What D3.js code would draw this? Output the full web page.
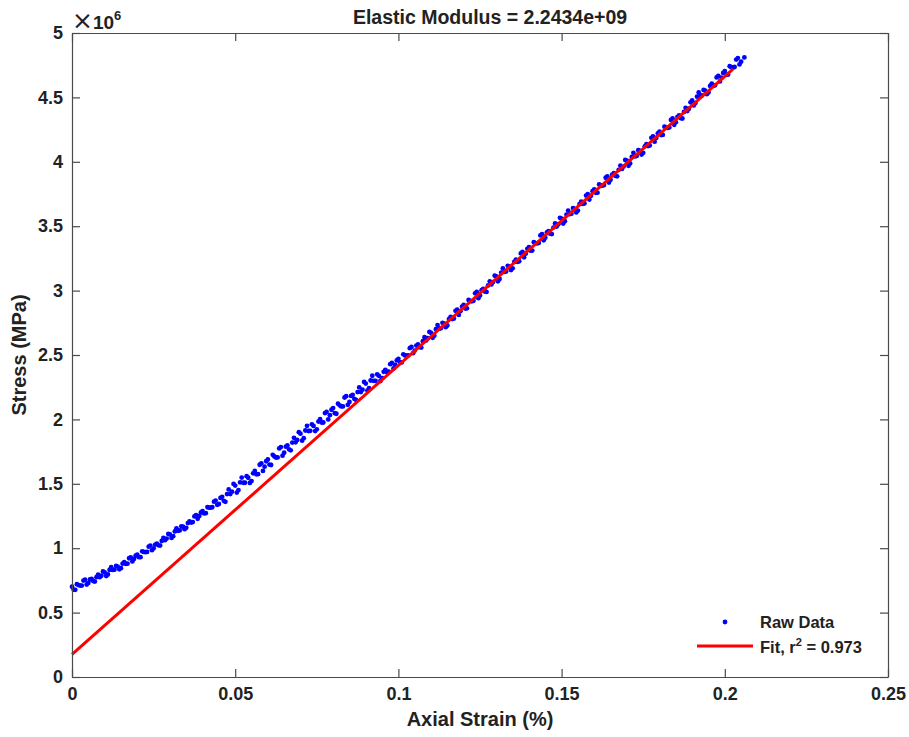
<!DOCTYPE html>
<html>
<head>
<meta charset="utf-8">
<script src="https://cdn.jsdelivr.net/npm/d3@7"></script>
<style>
  html, body { margin: 0; padding: 0; background: #fff; }
  svg { display: block; }
  text { font-family: "Liberation Sans", Arial, Helvetica, sans-serif; }
</style>
</head>
<body>
<svg id="chart" width="909" height="737"></svg>
<script>
// ---- data (strain in %, stress in units of 1e6) ----
// pass 1 of the raw data
const rawStrain = [
0.000,0.001,0.002,0.003,0.004,0.005,0.006,0.007,0.008,0.009,
0.010,0.011,0.012,0.013,0.014,0.015,0.016,0.017,0.018,0.019,
0.020,0.021,0.022,0.023,0.024,0.025,0.026,0.027,0.028,0.029,
0.030,0.031,0.032,0.033,0.034,0.035,0.036,0.037,0.038,0.039,
0.040,0.041,0.042,0.043,0.044,0.045,0.046,0.047,0.048,0.049,
0.050,0.051,0.052,0.053,0.054,0.055,0.056,0.057,0.058,0.059,
0.060,0.061,0.062,0.063,0.064,0.065,0.066,0.067,0.068,0.069,
0.070,0.071,0.072,0.073,0.074,0.075,0.076,0.077,0.078,0.079,
0.080,0.081,0.082,0.083,0.084,0.085,0.086,0.087,0.088,0.089,
0.090,0.091,0.092,0.093,0.094,0.095,0.096,0.097,0.098,0.099,
0.100,0.101,0.102,0.103,0.104,0.105,0.106,0.107,0.108,0.109,
0.110,0.111,0.112,0.113,0.114,0.115,0.116,0.117,0.118,0.119,
0.120,0.121,0.122,0.123,0.124,0.125,0.126,0.127,0.128,0.129,
0.130,0.131,0.132,0.133,0.134,0.135,0.136,0.137,0.138,0.139,
0.140,0.141,0.142,0.143,0.144,0.145,0.146,0.147,0.148,0.149,
0.150,0.151,0.152,0.153,0.154,0.155,0.156,0.157,0.158,0.159,
0.160,0.161,0.162,0.163,0.164,0.165,0.166,0.167,0.168,0.169,
0.170,0.171,0.172,0.173,0.174,0.175,0.176,0.177,0.178,0.179,
0.180,0.181,0.182,0.183,0.184,0.185,0.186,0.187,0.188,0.189,
0.190,0.191,0.192,0.193,0.194,0.195,0.196,0.197,0.198,0.199,
0.200,0.201,0.202,0.203,0.204,0.205,0.206
];
const rawStress = [
0.701,0.677,0.714,0.710,0.755,0.730,0.762,0.741,0.795,0.786,
0.813,0.796,0.852,0.833,0.857,0.845,0.891,0.880,0.928,0.917,
0.950,0.930,0.971,0.971,1.020,0.999,1.036,1.020,1.079,1.075,
1.107,1.093,1.154,1.138,1.167,1.158,1.209,1.203,1.256,1.250,
1.288,1.272,1.315,1.319,1.370,1.343,1.399,1.360,1.456,1.439,
1.486,1.451,1.548,1.508,1.547,1.521,1.600,1.575,1.658,1.633,
1.689,1.646,1.712,1.705,1.785,1.741,1.798,1.760,1.857,1.841,
1.889,1.854,1.950,1.911,1.949,1.923,2.001,1.976,2.058,2.033,
2.088,2.044,2.109,2.101,2.180,2.135,2.191,2.152,2.248,2.231,
2.278,2.242,2.339,2.299,2.338,2.320,2.385,2.370,2.438,2.423,
2.470,2.442,2.497,2.497,2.563,2.534,2.583,2.558,2.638,2.630,
2.672,2.650,2.732,2.707,2.744,2.729,2.796,2.783,2.853,2.840,
2.889,2.862,2.920,2.921,2.990,2.962,3.014,2.990,3.072,3.066,
3.110,3.090,3.172,3.149,3.186,3.173,3.241,3.228,3.300,3.287,
3.338,3.311,3.369,3.370,3.439,3.411,3.462,3.439,3.521,3.515,
3.559,3.539,3.621,3.597,3.635,3.621,3.690,3.677,3.749,3.736,
3.786,3.760,3.817,3.819,3.887,3.860,3.911,3.887,3.970,3.963,
4.008,3.987,4.070,4.046,4.084,4.070,4.138,4.126,4.197,4.185,
4.235,4.209,4.266,4.267,4.336,4.308,4.360,4.336,4.419,4.412,
4.476,4.456,4.538,4.515,4.552,4.539,4.607,4.594,4.666,4.653,
4.704,4.677,4.735,4.736,4.805,4.777,4.810
];
// pass 2 of the raw data
const rawStrain2 = [
0.0005,0.0015,0.0025,0.0035,0.0045,0.0055,0.0065,0.0075,0.0085,0.0095,
0.0105,0.0115,0.0125,0.0135,0.0145,0.0155,0.0165,0.0175,0.0185,0.0195,
0.0205,0.0215,0.0225,0.0235,0.0245,0.0255,0.0265,0.0275,0.0285,0.0295,
0.0305,0.0315,0.0325,0.0335,0.0345,0.0355,0.0365,0.0375,0.0385,0.0395,
0.0405,0.0415,0.0425,0.0435,0.0445,0.0455,0.0465,0.0475,0.0485,0.0495,
0.0505,0.0515,0.0525,0.0535,0.0545,0.0555,0.0565,0.0575,0.0585,0.0595,
0.0605,0.0615,0.0625,0.0635,0.0645,0.0655,0.0665,0.0675,0.0685,0.0695,
0.0705,0.0715,0.0725,0.0735,0.0745,0.0755,0.0765,0.0775,0.0785,0.0795,
0.0805,0.0815,0.0825,0.0835,0.0845,0.0855,0.0865,0.0875,0.0885,0.0895,
0.0905,0.0915,0.0925,0.0935,0.0945,0.0955,0.0965,0.0975,0.0985,0.0995,
0.1005,0.1015,0.1025,0.1035,0.1045,0.1055,0.1065,0.1075,0.1085,0.1095,
0.1105,0.1115,0.1125,0.1135,0.1145,0.1155,0.1165,0.1175,0.1185,0.1195,
0.1205,0.1215,0.1225,0.1235,0.1245,0.1255,0.1265,0.1275,0.1285,0.1295,
0.1305,0.1315,0.1325,0.1335,0.1345,0.1355,0.1365,0.1375,0.1385,0.1395,
0.1405,0.1415,0.1425,0.1435,0.1445,0.1455,0.1465,0.1475,0.1485,0.1495,
0.1505,0.1515,0.1525,0.1535,0.1545,0.1555,0.1565,0.1575,0.1585,0.1595,
0.1605,0.1615,0.1625,0.1635,0.1645,0.1655,0.1665,0.1675,0.1685,0.1695,
0.1705,0.1715,0.1725,0.1735,0.1745,0.1755,0.1765,0.1775,0.1785,0.1795,
0.1805,0.1815,0.1825,0.1835,0.1845,0.1855,0.1865,0.1875,0.1885,0.1895,
0.1905,0.1915,0.1925,0.1935,0.1945,0.1955,0.1965,0.1975,0.1985,0.1995,
0.2005,0.2015,0.2025,0.2035,0.2045
];
const rawStress2 = [
0.679,0.721,0.710,0.749,0.718,0.757,0.745,0.775,0.775,0.820,
0.784,0.831,0.831,0.863,0.836,0.880,0.878,0.922,0.897,0.942,
0.930,0.976,0.969,1.012,0.985,1.028,1.022,1.056,1.062,1.111,
1.080,1.130,1.135,1.170,1.148,1.195,1.199,1.247,1.228,1.277,
1.270,1.319,1.315,1.361,1.337,1.390,1.368,1.420,1.420,1.499,
1.432,1.511,1.508,1.559,1.507,1.581,1.574,1.648,1.600,1.675,
1.649,1.725,1.704,1.775,1.718,1.788,1.768,1.820,1.822,1.901,
1.835,1.914,1.910,1.962,1.909,1.983,1.975,2.049,2.000,2.075,
2.048,2.122,2.101,2.170,2.113,2.182,2.160,2.212,2.212,2.291,
2.224,2.302,2.299,2.350,2.298,2.369,2.367,2.429,2.395,2.458,
2.442,2.505,2.494,2.553,2.514,2.573,2.562,2.607,2.613,2.679,
2.633,2.700,2.704,2.750,2.716,2.779,2.779,2.843,2.811,2.876,
2.861,2.927,2.917,2.979,2.941,3.003,2.993,3.040,3.048,3.116,
3.072,3.140,3.145,3.192,3.159,3.223,3.224,3.289,3.258,3.324,
3.310,3.376,3.366,3.428,3.390,3.451,3.442,3.489,3.497,3.565,
3.521,3.589,3.593,3.641,3.607,3.672,3.673,3.738,3.707,3.772,
3.759,3.824,3.815,3.876,3.839,3.900,3.890,3.938,3.945,4.014,
3.969,4.038,4.042,4.090,4.056,4.120,4.122,4.186,4.156,4.221,
4.208,4.273,4.263,4.325,4.287,4.349,4.339,4.387,4.394,4.462,
4.438,4.506,4.511,4.558,4.525,4.589,4.590,4.655,4.624,4.690,
4.676,4.742,4.732,4.794,4.756
];
// fit line end points (strain %, stress 1e6)
const fitStrain = [0, 0.2025];
const fitStress = [0.176, 4.719];

const xTicks = [0, 0.05, 0.1, 0.15, 0.2, 0.25];
const yTicks = [0, 0.5, 1, 1.5, 2, 2.5, 3, 3.5, 4, 4.5, 5];
const xTickLabels = ["0", "0.05", "0.1", "0.15", "0.2", "0.25"];
const yTickLabels = ["0", "0.5", "1", "1.5", "2", "2.5", "3", "3.5", "4", "4.5", "5"];

const titleText = "Elastic Modulus = 2.2434e+09";
const xLabel = "Axial Strain (%)";
const yLabel = "Stress (MPa)";
const legendLabels = ["Raw Data", "Fit, r"];

// ---- layout ----
const svg = d3.select("#chart");
const L = 72, R = 888, T = 33, B = 677;
const axisColor = "#4a4a4a";
const textColor = "#222";
const FONT = "'Liberation Sans', Arial, sans-serif";

const x = d3.scaleLinear().domain([0, 0.25]).range([L, R]);
const y = d3.scaleLinear().domain([0, 5]).range([B, T]);

// data
const pts = rawStrain.map((s, i) => [s, rawStress[i]])
  .concat(rawStrain2.map((s, i) => [s, rawStress2[i]]));
svg.append("g").selectAll("circle").data(pts).join("circle")
  .attr("cx", d => x(d[0])).attr("cy", d => y(d[1]))
  .attr("r", 2.4).attr("fill", "#0000ff");

// fit line
svg.append("line")
  .attr("x1", x(fitStrain[0])).attr("y1", y(fitStress[0]))
  .attr("x2", x(fitStrain[1])).attr("y2", y(fitStress[1]))
  .attr("stroke", "#ff0000").attr("stroke-width", 3);

// axes
function style(g) {
  g.select(".domain").attr("stroke", axisColor).attr("stroke-width", 1.2);
  g.selectAll(".tick line").attr("stroke", axisColor).attr("stroke-width", 1.2);
  g.selectAll(".tick text").attr("fill", textColor)
    .attr("font-size", 18).attr("font-weight", "bold").attr("font-family", FONT);
}
const gx = svg.append("g").attr("transform", `translate(0,${B})`)
  .call(d3.axisBottom(x).tickValues(xTicks).tickFormat((d, i) => xTickLabels[i])
    .tickSizeInner(-8).tickSizeOuter(0).tickPadding(10));
style(gx);
const gxt = svg.append("g").attr("transform", `translate(0,${T})`)
  .call(d3.axisTop(x).tickValues(xTicks).tickFormat("").tickSizeInner(-8).tickSizeOuter(0));
style(gxt);
const gy = svg.append("g").attr("transform", `translate(${L},0)`)
  .call(d3.axisLeft(y).tickValues(yTicks).tickFormat((d, i) => yTickLabels[i])
    .tickSizeInner(-8).tickSizeOuter(0).tickPadding(9));
style(gy);
const gyr = svg.append("g").attr("transform", `translate(${R},0)`)
  .call(d3.axisRight(y).tickValues(yTicks).tickFormat("").tickSizeInner(-8).tickSizeOuter(0));
style(gyr);

// exponent label
const ex = svg.append("text").attr("x", L).attr("y", 29)
  .attr("font-size", 19).attr("fill", textColor);
ex.append("tspan").attr("font-size", 25).attr("font-family", "'DejaVu Sans', sans-serif")
  .attr("font-weight", "normal").text("\u00d7");
ex.append("tspan").attr("font-weight", "bold").text("10");
ex.append("tspan").attr("font-size", 13).attr("font-weight", "bold").attr("dy", -9).text("6");

// title
svg.append("text").attr("x", (L + R) / 2 + 10).attr("y", 24).attr("text-anchor", "middle")
  .attr("font-size", 19.5).attr("font-weight", "bold").attr("fill", textColor).text(titleText);

// axis labels
svg.append("text").attr("x", (L + R) / 2).attr("y", 726).attr("text-anchor", "middle")
  .attr("font-size", 20).attr("font-weight", "bold").attr("fill", textColor).text(xLabel);
svg.append("text").attr("transform", `translate(26,${(T + B) / 2}) rotate(-90)`)
  .attr("text-anchor", "middle")
  .attr("font-size", 20).attr("font-weight", "bold").attr("fill", textColor).text(yLabel);

// legend
svg.append("circle").attr("cx", 725).attr("cy", 622).attr("r", 2.4).attr("fill", "#0000ff");
svg.append("text").attr("x", 760).attr("y", 628).attr("font-size", 16.5)
  .attr("font-weight", "bold").attr("fill", textColor).text(legendLabels[0]);
svg.append("line").attr("x1", 697).attr("x2", 753).attr("y1", 646).attr("y2", 646)
  .attr("stroke", "#ff0000").attr("stroke-width", 3);
const lt = svg.append("text").attr("x", 760).attr("y", 653).attr("font-size", 16.5)
  .attr("font-weight", "bold").attr("fill", textColor);
lt.append("tspan").text(legendLabels[1]);
lt.append("tspan").attr("font-size", 11).attr("dy", -7).text("2");
lt.append("tspan").attr("dy", 7).text(" = 0.973");
</script>
</body>
</html>
